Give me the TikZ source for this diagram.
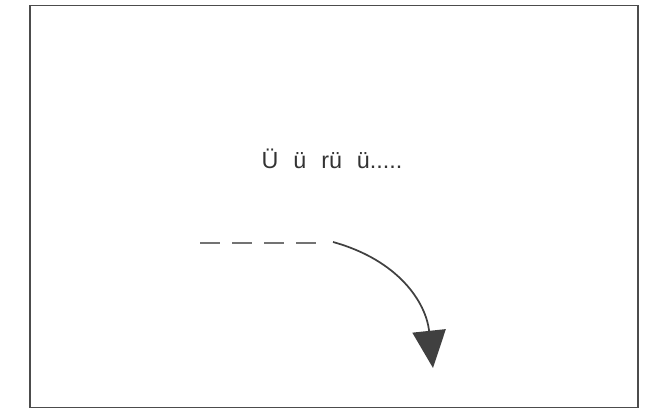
\documentclass[tikz,border=0pt]{standalone}
\usepackage{fontspec}
\setmainfont{Liberation Sans}
\newfontfamily\msgfont{Liberation Sans}[WordSpace=2.3]
\usetikzlibrary{arrows.meta}

\begin{document}
\begin{tikzpicture}[x=0.75pt, y=-0.75pt, frame/.style={draw=black!70, line width=1.4pt}, dashline/.style={draw=black!55, line width=1.4pt, dash pattern=on 15pt off 9pt}, turnarrow/.style={-{Triangle[length=28pt, width=25pt]}, draw=black!75, line width=1.3pt}, msg/.style={font=\msgfont\fontsize{17.5}{21}\selectfont, text=black!80, inner sep=0pt}]
\useasboundingbox (0,0) rectangle (659,410);
\node[frame, minimum width=456pt, minimum height=301.5pt, inner sep=0pt] (box) at (334,206.5) {};
\node[msg, anchor=base] (txt) at (332,168) {Ü ü rü ü.....};
\coordinate (d1) at (200,243);
\coordinate (d2) at (318,243);
\coordinate (a1) at (333,242);
\coordinate (a2) at (433,368);
\draw[dashline] (d1) -- (d2);
\draw[turnarrow] (a1) .. controls (398,260) and (426,302) .. (a2);
\end{tikzpicture}
\end{document}
